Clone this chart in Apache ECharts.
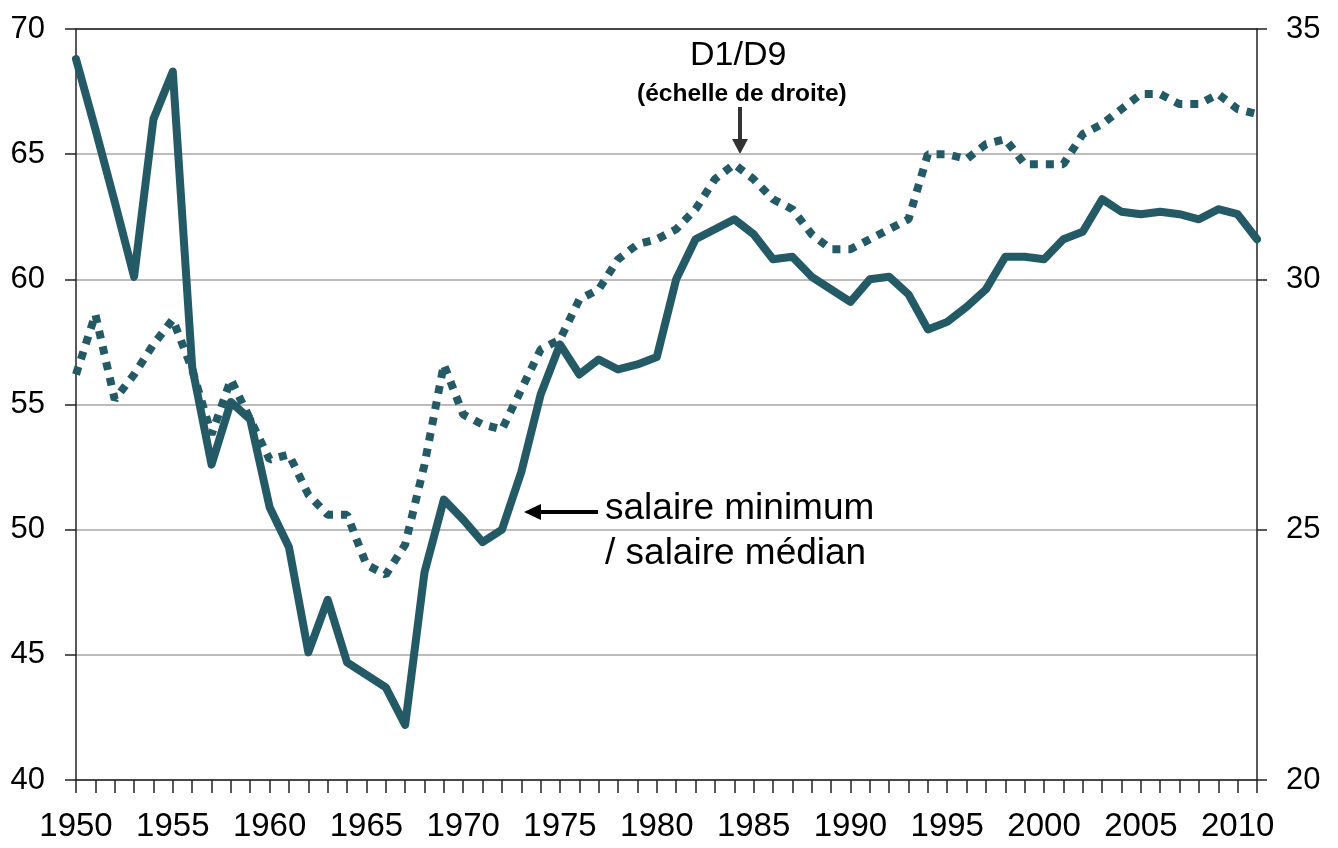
<!DOCTYPE html>
<html>
<head>
<meta charset="utf-8">
<script src="https://cdn.jsdelivr.net/npm/echarts@6/dist/echarts.min.js"></script>
<style>
  html, body { margin: 0; padding: 0; background: #fff; }
  #main { width: 1338px; height: 848px; }
</style>
</head>
<body>
<div id="main"></div>
<script>
// years 1950..2011
var years = [];
for (var y = 1950; y <= 2011; y++) years.push(String(y));

// salaire minimum / salaire médian (échelle de gauche)
var smicMedian = [
  68.8, 66.0, 63.1, 60.1, 66.4, 68.3, 56.5, 52.6, 55.1, 54.4,
  50.9, 49.3, 45.1, 47.2, 44.7, 44.2, 43.7, 42.2, 48.3, 51.2,
  50.4, 49.5, 50.0, 52.3, 55.4, 57.4, 56.2, 56.8, 56.4, 56.6,
  56.9, 60.0, 61.6, 62.0, 62.4, 61.8, 60.8, 60.9, 60.1, 59.6,
  59.1, 60.0, 60.1, 59.4, 58.0, 58.3, 58.9, 59.6, 60.9, 60.9,
  60.8, 61.6, 61.9, 63.2, 62.7, 62.6, 62.7, 62.6, 62.4, 62.8,
  62.6, 61.6
];

// D1/D9 (échelle de droite)
var d1d9 = [
  28.1, 29.3, 27.6, 28.1, 28.7, 29.2, 28.2, 26.9, 28.0, 27.2,
  26.4, 26.5, 25.7, 25.3, 25.3, 24.3, 24.1, 24.7, 26.3, 28.3,
  27.3, 27.1, 27.0, 27.8, 28.6, 28.8, 29.6, 29.8, 30.4, 30.7,
  30.8, 31.0, 31.4, 32.0, 32.3, 32.0, 31.6, 31.4, 30.9, 30.6,
  30.6, 30.8, 31.0, 31.2, 32.5, 32.5, 32.4, 32.7, 32.8, 32.3,
  32.3, 32.3, 32.9, 33.1, 33.4, 33.7, 33.7, 33.5, 33.5, 33.7,
  33.4, 33.3
];

var teal = '#235a66';
var txtFont = "'Liberation Sans', Arial, sans-serif";

var myChart = echarts.init(document.getElementById('main'));

myChart.setOption({
  backgroundColor: '#fff',
  animation: false,
  grid: { left: 76, right: 81, top: 29, bottom: 68 },
  xAxis: [{
    type: 'category',
    data: years,
    boundaryGap: false,
    axisLine: { lineStyle: { color: '#222', width: 1.5 } },
    axisTick: { interval: 0, length: 13, lineStyle: { color: '#222', width: 1.5 } },
    axisLabel: { interval: 4, color: '#000', fontSize: 33, fontFamily: txtFont, margin: 30 },
    splitLine: { show: false }
  }, {
    // top border of the plot
    type: 'category',
    data: years,
    position: 'top',
    boundaryGap: false,
    axisLine: { lineStyle: { color: '#222', width: 1.5 } },
    axisTick: { show: false },
    axisLabel: { show: false }
  }],
  yAxis: [{
    type: 'value',
    min: 40, max: 70, interval: 5,
    axisLine: { show: true, lineStyle: { color: '#222', width: 1.5 } },
    axisTick: { show: true, length: 11, lineStyle: { color: '#222', width: 1.5 } },
    axisLabel: { color: '#000', fontSize: 31, fontFamily: txtFont, margin: 31 },
    splitLine: { show: true, lineStyle: { color: '#a6a6a6', width: 1.5 } }
  }, {
    type: 'value',
    min: 20, max: 35, interval: 5,
    position: 'right',
    axisLine: { show: true, lineStyle: { color: '#222', width: 1.5 } },
    axisTick: { show: true, length: 10, lineStyle: { color: '#222', width: 1.5 } },
    axisLabel: { color: '#000', fontSize: 31, fontFamily: txtFont, margin: 29 },
    splitLine: { show: false }
  }],
  series: [{
    name: 'D1/D9',
    type: 'line',
    yAxisIndex: 1,
    data: d1d9,
    symbol: 'none',
    lineStyle: { color: teal, width: 8, type: [8, 8], cap: 'butt' }
  }, {
    name: 'salaire minimum / salaire médian',
    type: 'line',
    data: smicMedian,
    symbol: 'none',
    lineStyle: { color: teal, width: 8, join: 'round', cap: 'round' }
  }],
  graphic: [
    { type: 'text', left: 690, top: 39,
      style: { text: 'D1/D9', font: '34px ' + txtFont, fill: '#000' } },
    { type: 'text', left: 637, top: 82,
      style: { text: '(échelle de droite)', font: 'bold 24.5px ' + txtFont, fill: '#000' } },
    { type: 'line', shape: { x1: 740, y1: 107, x2: 740, y2: 142 },
      style: { stroke: '#333', lineWidth: 4 } },
    { type: 'polygon', shape: { points: [[740, 154], [732, 139], [748, 139]] },
      style: { fill: '#333' } },
    { type: 'line', shape: { x1: 598, y1: 512, x2: 538, y2: 512 },
      style: { stroke: '#000', lineWidth: 4 } },
    { type: 'polygon', shape: { points: [[524, 512], [541, 504], [541, 520]] },
      style: { fill: '#000' } },
    { type: 'text', left: 605, top: 490,
      style: { text: 'salaire minimum', font: '37px ' + txtFont, fill: '#000' } },
    { type: 'text', left: 605, top: 535,
      style: { text: '/ salaire médian', font: '37px ' + txtFont, fill: '#000' } }
  ]
});
</script>
</body>
</html>
